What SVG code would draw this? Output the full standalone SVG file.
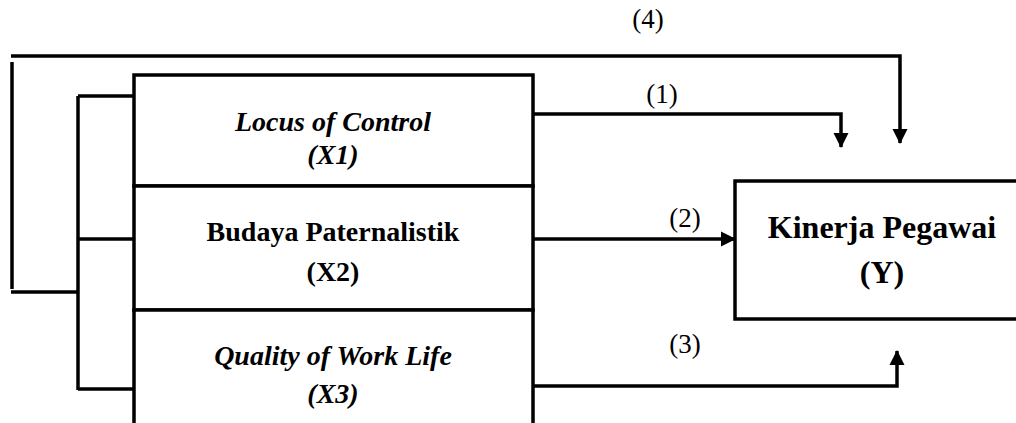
<svg xmlns="http://www.w3.org/2000/svg" width="1016" height="423" viewBox="0 0 1016 423">
<style>
.ln{fill:none;stroke:#000;stroke-width:3.5}
.box{fill:#fff;stroke:#000;stroke-width:3.5}
.bi{font-family:"Liberation Serif",serif;font-weight:bold;font-style:italic;font-size:28px;text-anchor:middle}
.b{font-family:"Liberation Serif",serif;font-weight:bold;font-size:28px;text-anchor:middle}
.by{font-family:"Liberation Serif",serif;font-weight:bold;font-size:32px;text-anchor:middle}
.lb{font-family:"Liberation Serif",serif;font-size:27px;text-anchor:middle}
</style>
<defs>
<marker id="ah" markerWidth="4.4" markerHeight="4.4" refX="4.1" refY="2.2" orient="auto" markerUnits="strokeWidth">
<path d="M0,0 L4.4,2.2 L0,4.4 Z" fill="#000"/>
</marker>
</defs>
<rect width="1016" height="423" fill="#fff"/>
<g id="connectors">
<path class="ln" d="M11,56 H900 V143" marker-end="url(#ah)"/>
<path class="ln" d="M12,62 V289"/>
<path class="ln" d="M11,292 H78"/>
<path class="ln" d="M78,96 V390"/>
<path class="ln" d="M78,96 H134"/>
<path class="ln" d="M78,239 H134"/>
<path class="ln" d="M78,389 H134"/>
<path class="ln" d="M533,114 H841 V147" marker-end="url(#ah)"/>
<path class="ln" d="M533,239 H735" marker-end="url(#ah)"/>
<path class="ln" d="M533,386 H897 V351" marker-end="url(#ah)"/>
<text class="lb" x="648" y="28">(4)</text>
<text class="lb" x="662" y="103">(1)</text>
<text class="lb" x="685" y="227">(2)</text>
<text class="lb" x="685" y="353">(3)</text>
</g>
<g id="x1">
<rect class="box" x="134" y="75" width="399" height="111"/>
<text class="bi" x="333" y="131">Locus of Control</text>
<text class="bi" x="333" y="164">(X1)</text>
</g>
<g id="x2">
<rect class="box" x="134" y="186" width="399" height="124"/>
<text class="b" x="333" y="241">Budaya Paternalistik</text>
<text class="b" x="333" y="281">(X2)</text>
</g>
<g id="x3">
<rect class="box" x="134" y="310" width="399" height="120"/>
<text class="bi" x="333" y="365">Quality of Work Life</text>
<text class="bi" x="333" y="403">(X3)</text>
</g>
<g id="y">
<rect class="box" x="735" y="181" width="290" height="138"/>
<text class="by" x="882" y="238">Kinerja Pegawai</text>
<text class="by" x="882" y="283">(Y)</text>
</g>
</svg>
